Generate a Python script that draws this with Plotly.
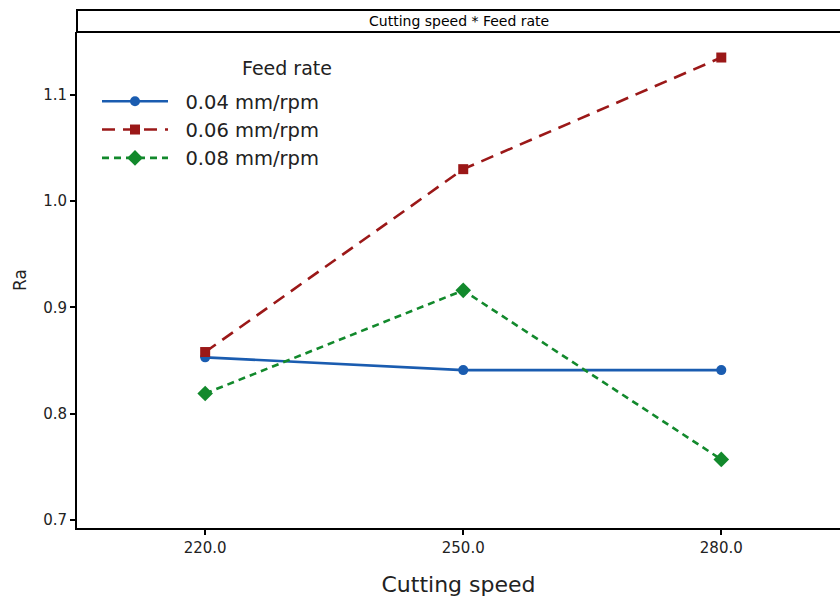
import plotly.graph_objects as go

speeds = [220.0, 250.0, 280.0]
feed_labels = ["0.04 mm/rpm", "0.06 mm/rpm", "0.08 mm/rpm"]
ra_004 = [0.853, 0.841, 0.841]
ra_006 = [0.858, 1.030, 1.135]
ra_008 = [0.819, 0.916, 0.757]
y_ticks = [0.7, 0.8, 0.9, 1.0, 1.1]

FONT = "DejaVu Sans"
W, H = 840, 597
ML, MR, MT, MB = 77, 0, 32, 69
plot_w = W - ML - MR
plot_h = H - MT - MB

fig = go.Figure()
styles = [
    (ra_004, "#1a5cb0", "solid", "circle", 10),
    (ra_006, "#9b1818", "13px,8px", "square", 10),
    (ra_008, "#12892c", "7px,5px", "diamond", 12),
]
for name, (vals, col, dash, sym, ms) in zip(feed_labels, styles):
    fig.add_trace(go.Scatter(
        x=speeds, y=vals, name="\u00a0\u00a0" + name, mode="lines+markers",
        line=dict(color=col, width=2.6, dash=dash),
        marker=dict(symbol=sym, size=ms, color=col),
    ))

strip_h = 22 / plot_h
fig.add_shape(type="rect", xref="paper", yref="paper", x0=0, x1=1.01,
              y0=1, y1=1 + strip_h, line=dict(color="black", width=2),
              fillcolor="white", layer="above")
fig.add_annotation(text="Cutting speed * Feed rate", xref="paper", yref="paper",
                   x=0.5, y=1 + strip_h / 2, showarrow=False,
                   font=dict(family=FONT, size=14, color="black"),
                   xanchor="center", yanchor="middle")
fig.add_annotation(text="Feed rate", xref="paper", yref="paper",
                   x=(334 - ML) / plot_w, y=1 - (68 - MT) / plot_h,
                   showarrow=False, xanchor="right", yanchor="middle",
                   font=dict(family=FONT, size=19, color="#222"))

fig.update_layout(
    width=W, height=H, margin=dict(l=ML, r=MR, t=MT, b=MB),
    paper_bgcolor="white", plot_bgcolor="white",
    font=dict(family=FONT, color="#222"),
    showlegend=True,
    legend=dict(x=(97 - ML) / plot_w, y=1 - (82 - MT) / plot_h,
                xanchor="left", yanchor="top", bgcolor="rgba(0,0,0,0)",
                font=dict(family=FONT, size=19.5, color="#222"),
                itemwidth=66, tracegroupgap=0),
    xaxis=dict(range=[205.1, 293.8], tickvals=speeds,
               ticktext=[f"{s:.1f}" for s in speeds],
               showgrid=False, zeroline=False, showline=True,
               linecolor="black", linewidth=2, ticks="outside",
               ticklen=5, tickwidth=2, tickcolor="black",
               tickfont=dict(size=15, color="#222"),
               title=dict(text="Cutting speed", font=dict(size=22, color="#222"),
                          standoff=22)),
    yaxis=dict(range=[0.6925, 1.159], tickvals=y_ticks,
               ticktext=[f"{v:.1f}" for v in y_ticks],
               showgrid=False, zeroline=False, showline=True,
               linecolor="black", linewidth=2, ticks="outside",
               ticklen=5, tickwidth=2, tickcolor="black",
               tickfont=dict(size=15, color="#222"),
               title=dict(text="Ra", font=dict(size=17, color="#222"),
                          standoff=12)),
)

fig.write_html("out.html")
